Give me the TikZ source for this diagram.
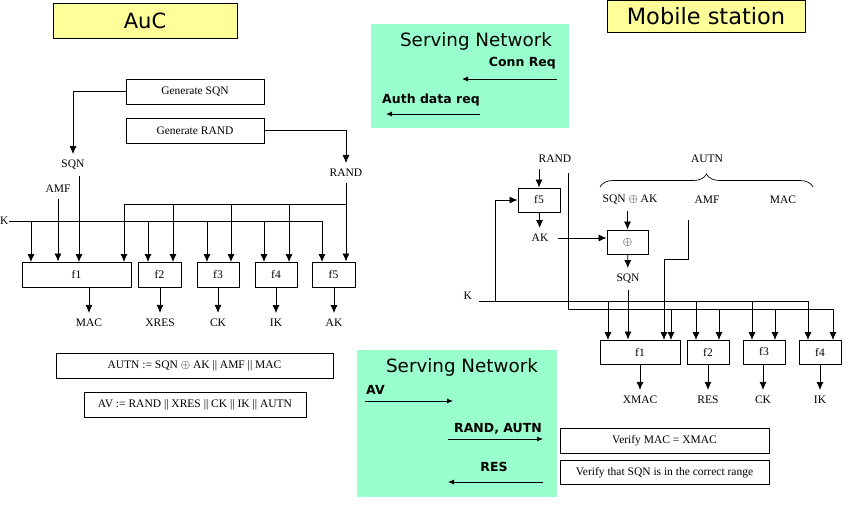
\documentclass[tikz,border=0pt]{standalone}
\usepackage{amsmath,amssymb}
\usepackage{fontspec}
\setmainfont{Liberation Serif}
\newfontfamily\comicfont{DejaVu Sans}
\usetikzlibrary{arrows.meta,decorations.pathreplacing}
\definecolor{snGreen}{RGB}{153,255,204}
\definecolor{aucYellow}{RGB}{255,255,153}

\begin{document}
\begin{tikzpicture}[x=1pt,y=-1pt,
  >={Latex[length=8pt,width=7pt]},
  every node/.style={font=\fontsize{11.5}{13}\selectfont},
  box/.style={draw,line width=0.9pt,inner sep=0pt},
  lbl/.style={inner xsep=1pt,inner ysep=6pt},
  conn/.style={line width=0.8pt},
  ttl/.style={font=\comicfont\fontsize{18.3}{22}\selectfont},
  msg/.style={font=\comicfont\bfseries\fontsize{12.5}{15}\selectfont,inner sep=1pt},
  msgarrow/.style={line width=0.8pt,-{Latex[length=6pt,width=5pt]}}]
  \useasboundingbox (0,0) rectangle (851,506);

  \node[box,ttl,fill=aucYellow,minimum width=184,minimum height=35,font=\comicfont\fontsize{21}{25}\selectfont] (auc) at (145,20.5) {AuC};
  \node[box,ttl,fill=aucYellow,minimum width=198,minimum height=32,font=\comicfont\fontsize{22.5}{26}\selectfont] (ms) at (706,16) {Mobile station};

  \node[box,minimum width=138,minimum height=25] (genSqn) at (195,91.5) {Generate SQN};
  \node[box,minimum width=138,minimum height=25] (genRand) at (195,130.5) {Generate RAND};
  \node[lbl] (sqnA) at (73,165) {SQN};
  \node[lbl] (amfA) at (58,189) {AMF};
  \node[lbl] (randA) at (346,173) {RAND};
  \node[lbl,anchor=west,inner xsep=0pt] (kA) at (0,221) {K};

  \node[box,minimum width=109,minimum height=25] (f1A) at (76.5,274.5) {f1};
  \node[box,minimum width=43,minimum height=25] (f2A) at (159.5,274.5) {f2};
  \node[box,minimum width=42,minimum height=25] (f3A) at (218,274.5) {f3};
  \node[box,minimum width=42,minimum height=25] (f4A) at (276,274.5) {f4};
  \node[box,minimum width=43,minimum height=25] (f5A) at (333.5,274.5) {f5};
  \node[lbl] (macA) at (89,323) {MAC};
  \node[lbl] (xresA) at (160,323) {XRES};
  \node[lbl] (ckA) at (218,323) {CK};
  \node[lbl] (ikA) at (276,323) {IK};
  \node[lbl] (akA) at (334,323) {AK};

  \coordinate (f1Ak) at (31,262); \coordinate (f1As) at (79,262); \coordinate (f1Ar) at (124,262);
  \coordinate (f2Ak) at (148,262); \coordinate (f2Ar) at (173,262);
  \coordinate (f3Ak) at (207,262); \coordinate (f3Ar) at (231,262);
  \coordinate (f4Ak) at (264,262); \coordinate (f4Ar) at (289,262);
  \coordinate (f5Ak) at (322,262);
  \coordinate (rbusA) at (346,204);

  \draw[conn,->] (genSqn.west) -| (sqnA.north);
  \draw[conn,->] (genRand.east) -| (randA.north);
  \draw[conn,->] (randA.south) -- (randA.south |- f5A.north);
  \draw[conn,->] (rbusA) -| (f1Ar);
  \draw[conn,->] (f2Ar |- rbusA) -- (f2Ar);
  \draw[conn,->] (f3Ar |- rbusA) -- (f3Ar);
  \draw[conn,->] (f4Ar |- rbusA) -- (f4Ar);
  \draw[conn,->] (kA.east) -| (f5Ak);
  \draw[conn,->] (f1Ak |- kA.east) -- (f1Ak);
  \draw[conn,->] (f2Ak |- kA.east) -- (f2Ak);
  \draw[conn,->] (f3Ak |- kA.east) -- (f3Ak);
  \draw[conn,->] (f4Ak |- kA.east) -- (f4Ak);
  \draw[conn,->] (amfA.south) -- (amfA.south |- f1A.north);
  \draw[conn,->] (f1As |- sqnA.south) -- (f1As);
  \draw[conn,->] (macA |- f1A.south) -- (macA);
  \draw[conn,->] (xresA |- f2A.south) -- (xresA);
  \draw[conn,->] (ckA |- f3A.south) -- (ckA);
  \draw[conn,->] (ikA |- f4A.south) -- (ikA);
  \draw[conn,->] (akA |- f5A.south) -- (akA);

  \node[box,minimum width=277,minimum height=25] (autnDef) at (194.5,365.5) {AUTN := SQN $\oplus$ AK || AMF || MAC};
  \node[box,minimum width=222,minimum height=25] (avDef) at (195,404.5) {AV := RAND || XRES || CK || IK || AUTN};

  \node[fill=snGreen,minimum width=198,minimum height=104,inner sep=0pt] (snTop) at (470,76) {};
  \node[ttl] (snTopTitle) at (476,41) {Serving Network};
  \node[msg,anchor=east] (connReq) at (557,63) {Conn Req};
  \node[msg,anchor=west] (authReq) at (381,100) {Auth data req};
  \coordinate (connReqA) at (557,79); \coordinate (connReqB) at (462,79);
  \coordinate (authReqA) at (480,114); \coordinate (authReqB) at (386,114);
  \draw[msgarrow] (connReqA) -- (connReqB);
  \draw[msgarrow] (authReqA) -- (authReqB);

  \node[fill=snGreen,minimum width=200,minimum height=147,inner sep=0pt] (snBot) at (457,423.5) {};
  \node[ttl] (snBotTitle) at (462,367) {Serving Network};
  \node[msg,anchor=west] (avMsg) at (365,390) {AV};
  \node[msg,anchor=east] (randAutn) at (543,429) {RAND, AUTN};
  \node[msg] (resMsg) at (494,467) {RES};
  \coordinate (avA) at (365,401); \coordinate (avB) at (453,401);
  \coordinate (randAutnA) at (448,439); \coordinate (randAutnB) at (543,439);
  \coordinate (resA) at (543,482); \coordinate (resB) at (448,482);
  \draw[msgarrow] (avA) -- (avB);
  \draw[msgarrow] (randAutnA) -- (randAutnB);
  \draw[msgarrow] (resA) -- (resB);

  \node[box,minimum width=209,minimum height=25] (verMac) at (664.5,440.5) {Verify MAC = XMAC};
  \node[box,minimum width=209,minimum height=24] (verSqn) at (664.5,472.5) {Verify that SQN is in the correct range};

  \node[lbl] (randB) at (555,159) {RAND};
  \node[lbl] (autnB) at (707,159) {AUTN};
  \node[lbl] (sqnakB) at (630,200) {SQN $\oplus$ AK};
  \node[lbl] (amfB) at (707,200) {AMF};
  \node[lbl] (macB) at (783,200) {MAC};
  \node[box,minimum width=42,minimum height=24] (f5B) at (539,200) {f5};
  \node[lbl] (akB) at (540,238) {AK};
  \node[box,minimum width=41,minimum height=24] (xorB) at (627.5,242) {$\oplus$};
  \node[lbl] (sqnB) at (628,279) {SQN};
  \node[lbl,anchor=east] (kB) at (473,296) {K};

  \node[box,minimum width=80,minimum height=24] (f1B) at (640,352) {f1};
  \node[box,minimum width=42,minimum height=24] (f2B) at (708,352) {f2};
  \node[box,minimum width=42,minimum height=24] (f3B) at (764,352) {f3};
  \node[box,minimum width=42,minimum height=24] (f4B) at (820,352) {f4};
  \node[lbl] (xmacB) at (640,400) {XMAC};
  \node[lbl] (resB) at (708,400) {RES};
  \node[lbl] (ckB) at (763,400) {CK};
  \node[lbl] (ikB) at (820,400) {IK};

  \coordinate (f1Bk) at (608,340); \coordinate (f1Ba) at (664,340); \coordinate (f1Br) at (671,340);
  \coordinate (f2Bk) at (696,340); \coordinate (f2Br) at (719,340);
  \coordinate (f3Bk) at (752,340); \coordinate (f3Br) at (775,340);
  \coordinate (f4Bk) at (808,340); \coordinate (f4Br) at (833,340);
  \coordinate (kBs) at (479,301); \coordinate (kBup) at (495,301);
  \coordinate (rTopB) at (568,173); \coordinate (rbusB) at (568,309);
  \coordinate (amfBs) at (688,220); \coordinate (amfBb) at (688,259);

  \draw[line width=0.7pt,decorate,decoration={brace,amplitude=13pt}] (600,187) -- (813,187);
  \draw[conn,->] (f5B.north |- randB.south) -- (f5B.north);
  \draw[conn,->] (rTopB) -- (rbusB) -| (f4Br);
  \draw[conn,->] (f1Br |- rbusB) -- (f1Br);
  \draw[conn,->] (f2Br |- rbusB) -- (f2Br);
  \draw[conn,->] (f3Br |- rbusB) -- (f3Br);
  \draw[conn,->] (kBs) -| (f4Bk);
  \draw[conn,->] (kBup) |- (f5B.west);
  \draw[conn,->] (f1Bk |- kBs) -- (f1Bk);
  \draw[conn,->] (f2Bk |- kBs) -- (f2Bk);
  \draw[conn,->] (f3Bk |- kBs) -- (f3Bk);
  \draw[conn,->] (f5B) -- (akB);
  \draw[conn,->,shorten <=8pt] (akB.east) -- (akB.east -| xorB.west);
  \draw[conn,->] (sqnakB.south -| xorB.north) -- (xorB.north);
  \draw[conn,->] (xorB) -- (sqnB);
  \draw[conn,->] (sqnB.south) -- (sqnB.south |- f1B.north);
  \draw[conn,->] (amfBs) -- (amfBb) -| (f1Ba);
  \draw[conn,->] (xmacB |- f1B.south) -- (xmacB);
  \draw[conn,->] (resB |- f2B.south) -- (resB);
  \draw[conn,->] (ckB |- f3B.south) -- (ckB);
  \draw[conn,->] (ikB |- f4B.south) -- (ikB);
\end{tikzpicture}
\end{document}
